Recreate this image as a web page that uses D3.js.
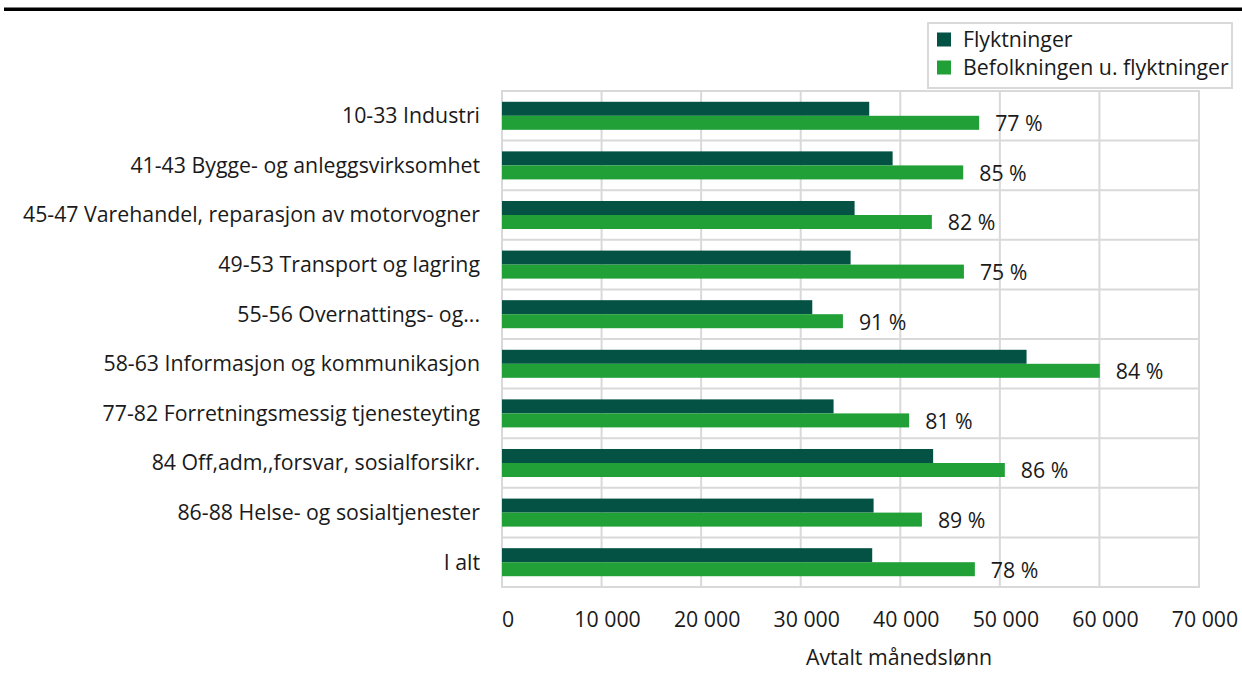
<!DOCTYPE html>
<html>
<head>
<meta charset="utf-8">
<script src="https://cdn.jsdelivr.net/npm/d3@7"></script>
<style>
  body { margin: 0; background: #fff; }
  text { font-family: "Open Sans", sans-serif; fill: #1a1a1a; font-size: 21.3px; }
</style>
</head>
<body>
<div id="chart"></div>
<script>
var categories = [
  "10-33 Industri",
  "41-43 Bygge- og anleggsvirksomhet",
  "45-47 Varehandel, reparasjon av motorvogner",
  "49-53 Transport og lagring",
  "55-56 Overnattings- og...",
  "58-63 Informasjon og kommunikasjon",
  "77-82 Forretningsmessig tjenesteyting",
  "84 Off,adm,,forsvar, sosialforsikr.",
  "86-88 Helse- og sosialtjenester",
  "I alt"
];
var seriesNames = ["Flyktninger", "Befolkningen u. flyktninger"];
var flyktninger = [36880, 39230, 35410, 35010, 31160, 52680, 33300, 43300, 37320, 37180];
var befolkningen = [47920, 46320, 43170, 46390, 34240, 60040, 40890, 50500, 42170, 47490];
var percentLabels = ["77 %", "85 %", "82 %", "75 %", "91 %", "84 %", "81 %", "86 %", "89 %", "78 %"];
var xTicks = [0, 10000, 20000, 30000, 40000, 50000, 60000, 70000];
var axisTitle = "Avtalt månedslønn";

var width = 1242,
    height = 673

var colors = ["#035243", "#21a038"]
var grid = "#d9d9d9"

var svg = d3.select("#chart")
  .append("svg")
    .attr("width", width)
    .attr("height", height)

// top rule
svg.append("rect")
  .attr("x", 4).attr("y", 7.5)
  .attr("width", width - 4).attr("height", 3.5)
  .attr("fill", "#000")

var x = d3.scaleLinear()
  .domain([0, 70000])
  .range([502, 1199])

var y = d3.scaleBand()
  .domain(categories)
  .range([91, 587])
  .paddingInner(0.435)
  .paddingOuter(0.2175)

var ySub = d3.scaleBand()
  .domain(seriesNames)
  .range([0, y.bandwidth()])

var step = y.step()
var plotTop = y.range()[0], plotBottom = y.range()[1]

// vertical grid
svg.append("g")
  .selectAll("line")
  .data(xTicks)
  .enter()
  .append("line")
    .attr("x1", function(d){ return x(d) })
    .attr("x2", function(d){ return x(d) })
    .attr("y1", plotTop - 1)
    .attr("y2", plotBottom + 1)
    .attr("stroke", grid)
    .attr("stroke-width", 2)

// horizontal grid at category boundaries
svg.append("g")
  .selectAll("line")
  .data(d3.range(categories.length + 1))
  .enter()
  .append("line")
    .attr("x1", x(0) - 1)
    .attr("x2", x(70000) + 1)
    .attr("y1", function(i){ return plotTop + i * step })
    .attr("y2", function(i){ return plotTop + i * step })
    .attr("stroke", grid)
    .attr("stroke-width", 2)

var rows = categories.map(function(c, i){
  return {cat: c, vals: [flyktninger[i], befolkningen[i]], pct: percentLabels[i]}
})

var row = svg.append("g")
  .selectAll("g")
  .data(rows)
  .enter()
  .append("g")
    .attr("transform", function(d){ return "translate(0," + y(d.cat) + ")" })

row.selectAll("rect")
  .data(function(d){ return d.vals.map(function(v, j){ return {s: seriesNames[j], v: v, j: j} }) })
  .enter()
  .append("rect")
    .attr("x", x(0))
    .attr("y", function(d){ return ySub(d.s) })
    .attr("width", function(d){ return x(d.v) - x(0) })
    .attr("height", ySub.bandwidth())
    .attr("fill", function(d){ return colors[d.j] })

// percent labels
row.append("text")
  .attr("x", function(d){ return x(d.vals[1]) + 16 })
  .attr("y", ySub(seriesNames[1]) + ySub.bandwidth() / 2 + 1)
  .attr("dy", "0.35em")
  .text(function(d){ return d.pct })

// category labels
svg.append("g")
  .selectAll("text")
  .data(categories)
  .enter()
  .append("text")
    .attr("x", 480)
    .attr("y", function(d){ return y(d) + y.bandwidth() / 2 })
    .attr("dy", "0.35em")
    .attr("text-anchor", "end")
    .text(function(d){ return d })

// x tick labels
svg.append("g")
  .selectAll("text")
  .data(xTicks)
  .enter()
  .append("text")
    .attr("x", function(d){ return x(d) + 6 })
    .attr("y", 627)
    .attr("text-anchor", "middle")
    .text(function(d){ return d3.format(",")(d).replace(/,/g, " ") })

svg.append("text")
  .attr("x", 899)
  .attr("y", 665)
  .attr("text-anchor", "middle")
  .text(axisTitle)

// legend
var legend = svg.append("g")
legend.append("rect")
  .attr("x", 928).attr("y", 23)
  .attr("width", 304).attr("height", 65)
  .attr("fill", "#fff")
  .attr("stroke", grid)
  .attr("stroke-width", 2)

var item = legend.selectAll("g.item")
  .data(seriesNames)
  .enter()
  .append("g")
    .attr("class", "item")
    .attr("transform", function(d, i){ return "translate(937," + (39.5 + i * 28) + ")" })

item.append("rect")
  .attr("x", 0).attr("y", -7)
  .attr("width", 14).attr("height", 14)
  .attr("fill", function(d, i){ return colors[i] })

item.append("text")
  .attr("x", 26)
  .attr("dy", "0.35em")
  .text(function(d){ return d })
</script>
</body>
</html>
